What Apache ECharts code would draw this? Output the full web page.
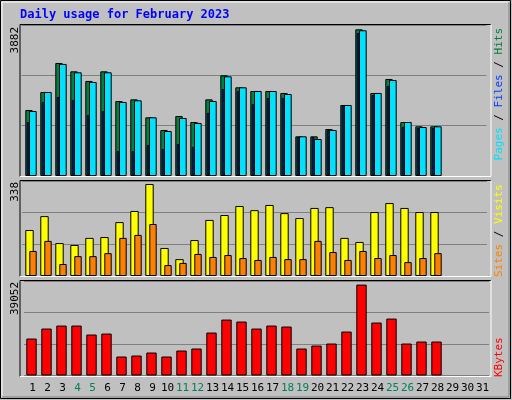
<!DOCTYPE html>
<html><head><meta charset="utf-8">
<script src="https://cdn.jsdelivr.net/npm/echarts@6/dist/echarts.min.js"></script>
<style>html,body{margin:0;padding:0;background:#c0c0c0}#c{width:512px;height:400px}</style>
</head><body><div id="c"></div>
<script>
const days = Array.from({length:31},(_,i)=>String(i+1));
const weekendDays = ['4','5','11','12','18','19','25','26'];
const hits  = [1747,2223,2991,2770,2515,2770,1985,2029,1553,1218,1588,1429,2029,2665,2347,2250,2250,2197,1050,1050,1244,1879,3882,2197,2567,1429,1315,1315];
const files = [1720,2223,2965,2744,2488,2744,1959,2003,1553,1191,1535,1403,1985,2638,2347,2250,2250,2170,1050,979,1218,1879,3856,2197,2541,1429,1297,1315];
const pages = [1429,1959,2091,2012,1615,1720,662,662,821,715,847,768,1668,2303,2250,1906,2065,2065,1032,1032,1218,1853,3785,2144,2382,1297,1270,1270];
const visits = [169,220,121,114,140,143,198,239,338,103,62,132,206,224,257,242,261,231,213,250,253,140,125,235,268,250,235,235];
const sites  = [92,129,44,73,73,84,140,151,191,40,48,81,70,77,66,59,70,62,62,129,88,59,92,66,77,51,66,84];
const kbytes = [15879,20170,21458,21458,17595,18024,8154,8583,9870,8154,10729,11587,18453,24032,23174,20170,21458,21028,11587,12875,13733,18883,39052,22745,24462,13733,14591,14591];
const maxLabels = ['3882','338','39052'];

const chart = echarts.init(document.getElementById('c'), null, {renderer:'canvas'});
const W = 465;
const panels = [{top:25,h:151,max:3996},{top:181,h:95,max:349},{top:281,h:94.5,max:40600}];
const defs = [
  {p:0,left:21.5,data:hits,color:'#008040',bw:7.4,z:2,grid:true},
  {p:0,left:25.35,data:files,color:'#00e0ff',bw:7.7,z:3},
  {p:0,left:20.5,data:pages,color:'#0040ff',bw:2.6,z:4},
  {p:1,left:22,data:visits,color:'#ffff00',bw:8.4,z:2,grid:true},
  {p:1,left:25.5,data:sites,color:'#ff8000',bw:7.4,z:3},
  {p:2,left:24,data:kbytes,color:'#ff0000',bw:10.4,z:2,grid:true}
];
const grid=[],xAxis=[],yAxis=[],series=[];
defs.forEach((d,i)=>{
  const P=panels[d.p];
  grid.push({left:d.left,width:W,top:P.top,height:P.h});
  xAxis.push({type:'category',gridIndex:i,data:days,show:false,boundaryGap:true});
  yAxis.push({type:'value',gridIndex:i,min:0,max:P.max,interval:P.max/3,axisLabel:{show:false},axisLine:{show:false},axisTick:{show:false},
    splitLine:{show:!!d.grid,lineStyle:{color:'#808080',width:1}},z:0});
  series.push({type:'bar',xAxisIndex:i,yAxisIndex:i,data:d.data,barWidth:d.bw,z:d.z,animation:false,
    itemStyle:{color:d.color,borderColor:'#000',borderWidth:1}});
});
// label axis
grid.push({left:25,width:W,top:376,height:1});
xAxis.push({type:'category',gridIndex:6,data:days,axisLine:{show:false},axisTick:{show:false},
  axisLabel:{interval:0,margin:6,fontFamily:'DejaVu Sans Mono',fontSize:11,
    color:(v)=>weekendDays.includes(v)?'#00805c':'#000'}});
yAxis.push({type:'value',gridIndex:6,show:false});

function panelFrame(y0,y1){
  return [
    {type:'rect',shape:{x:20,y:y0,width:471,height:y1-y0},style:{fill:'#c0c0c0'},z:-10,silent:true},
    {type:'polyline',shape:{points:[[20,y1],[20,y0],[491,y0]]},style:{stroke:'#000',lineWidth:1,fill:null},z:10},
    {type:'polyline',shape:{points:[[20,y1],[491,y1],[491,y0]]},style:{stroke:'#fff',lineWidth:1,fill:null},z:10}
  ];
}
const font='11px "DejaVu Sans Mono"';
const graphic=[
  {type:'rect',shape:{x:0.5,y:0.5,width:510,height:398},style:{fill:'#c0c0c0',stroke:'#000'},z:-20},
  {type:'polyline',shape:{points:[[2,397],[2,2],[509,2]]},style:{stroke:'#fff',fill:null},z:-15},
  {type:'polyline',shape:{points:[[2,397],[509,397],[509,2]]},style:{stroke:'#808080',fill:null},z:-15},
  ...panelFrame(24.5,176.5),...panelFrame(180.5,276.5),...panelFrame(280.5,376.5),
  {type:'text',x:20,y:9,style:{text:'Daily usage for February 2023',font:'bold 12px "DejaVu Sans Mono"',fill:'#0000ff'}},
  {type:'text',x:15,y:27,rotation:Math.PI/2,style:{text:maxLabels[0],font:font,fill:'#000',align:'right',verticalAlign:'middle'}},
  {type:'text',x:15,y:182,rotation:Math.PI/2,style:{text:maxLabels[1],font:font,fill:'#000',align:'right',verticalAlign:'middle'}},
  {type:'text',x:15,y:282,rotation:Math.PI/2,style:{text:maxLabels[2],font:font,fill:'#000',align:'right',verticalAlign:'middle'}},
  {type:'text',x:499,y:28,rotation:Math.PI/2,style:{text:'{a|Pages} {s|/} {b|Files} {s|/} {c|Hits}',font:font,align:'right',verticalAlign:'middle',
    rich:{a:{fill:'#00e0ff',font:font},b:{fill:'#0040ff',font:font},c:{fill:'#008040',font:font},s:{fill:'#000',font:font}}}},
  {type:'text',x:499,y:277,rotation:Math.PI/2,style:{text:'{a|Sites} {s|/} {b|Visits}',font:font,align:'left',verticalAlign:'middle',
    rich:{a:{fill:'#ff8000',font:font},b:{fill:'#ffff00',font:font},s:{fill:'#000',font:font}}}},
  {type:'text',x:499,y:377,rotation:Math.PI/2,style:{text:'KBytes',font:font,fill:'#ff0000',align:'left',verticalAlign:'middle'}}
];
chart.setOption({animation:false,backgroundColor:'#c0c0c0',grid,xAxis,yAxis,series,graphic});
</script></body></html>
